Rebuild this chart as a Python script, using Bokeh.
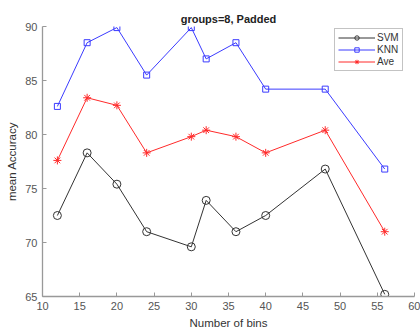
from bokeh.plotting import figure
from bokeh.models import Range1d, FixedTicker, Legend, LegendItem
from bokeh.embed import file_html
from bokeh.resources import INLINE

bins = [12, 16, 20, 24, 30, 32, 36, 40, 48, 56]
svm = [72.5, 78.3, 75.4, 71.0, 69.6, 73.9, 71.0, 72.5, 76.8, 65.2]
knn = [82.6, 88.5, 89.9, 85.5, 89.9, 87.0, 88.5, 84.2, 84.2, 76.8]
ave = [77.6, 83.4, 82.7, 78.3, 79.8, 80.4, 79.8, 78.3, 80.4, 71.0]
x_ticks = [10, 15, 20, 25, 30, 35, 40, 45, 50, 55, 60]
y_ticks = [65, 70, 75, 80, 85, 90]

FONT = "Liberation Sans"
AX = "#999999"
LBL = "#555555"

p = figure(width=420, height=331, output_backend="svg", toolbar_location=None,
           x_range=Range1d(10, 60), y_range=Range1d(65, 90),
           min_border_left=42, min_border_right=6, min_border_top=26, min_border_bottom=31,
           title="groups=8, Padded")
p.title.align = "center"
p.title.text_font = FONT
p.title.text_font_size = "11px"
p.title.text_font_style = "bold"
p.title.text_color = "#222222"
p.title.offset = 0
p.title.standoff = 4
p.outline_line_color = None
p.xgrid.visible = False
p.ygrid.visible = False

for ax, ticks in ((p.xaxis[0], x_ticks), (p.yaxis[0], y_ticks)):
    ax.ticker = FixedTicker(ticks=ticks)
    ax.axis_line_color = AX
    ax.axis_line_width = 1.3
    ax.major_tick_line_color = AX
    ax.major_tick_in = 4
    ax.major_tick_out = 0
    ax.minor_tick_line_color = None
    ax.major_label_text_font = FONT
    ax.major_label_text_font_size = "11px"
    ax.major_label_text_color = LBL
    ax.major_label_standoff = 5
    ax.axis_label_text_font = FONT
    ax.axis_label_text_font_size = "11.5px"
    ax.axis_label_text_font_style = "normal"
    ax.axis_label_text_color = "#333333"
    ax.axis_label_standoff = 4

p.xaxis.axis_label = "Number of bins"
p.yaxis.axis_label = "mean Accuracy"

c_svm, c_knn, c_ave = "#333333", "#3b3bff", "#ff2a2a"

l1 = p.line(bins, svm, line_color=c_svm, line_width=1)
m1 = p.scatter(bins, svm, marker="circle", size=8, fill_color=None, line_color=c_svm, line_width=1)
l2 = p.line(bins, knn, line_color=c_knn, line_width=1)
m2 = p.scatter(bins, knn, marker="square", size=6, fill_color=None, line_color=c_knn, line_width=1)
l3 = p.line(bins, ave, line_color=c_ave, line_width=1)
m3 = p.scatter(bins, ave, marker="asterisk", size=8, line_color=c_ave, line_width=1)

legend = Legend(items=[
    LegendItem(label="SVM", renderers=[l1, m1]),
    LegendItem(label="KNN", renderers=[l2, m2]),
    LegendItem(label="Ave", renderers=[l3, m3]),
], location=(292, 225))
legend.label_text_font = FONT
legend.label_text_font_size = "10px"
legend.label_text_color = "#333333"
legend.label_height = 11
legend.label_standoff = 2
legend.glyph_width = 37
legend.glyph_height = 11
legend.spacing = 1
legend.padding = 3
legend.margin = 0
legend.border_line_color = "#888888"
legend.border_line_width = 1
legend.background_fill_color = "white"
legend.background_fill_alpha = 1
p.add_layout(legend, "center")

open("out.html", "w").write(file_html(p, INLINE))
